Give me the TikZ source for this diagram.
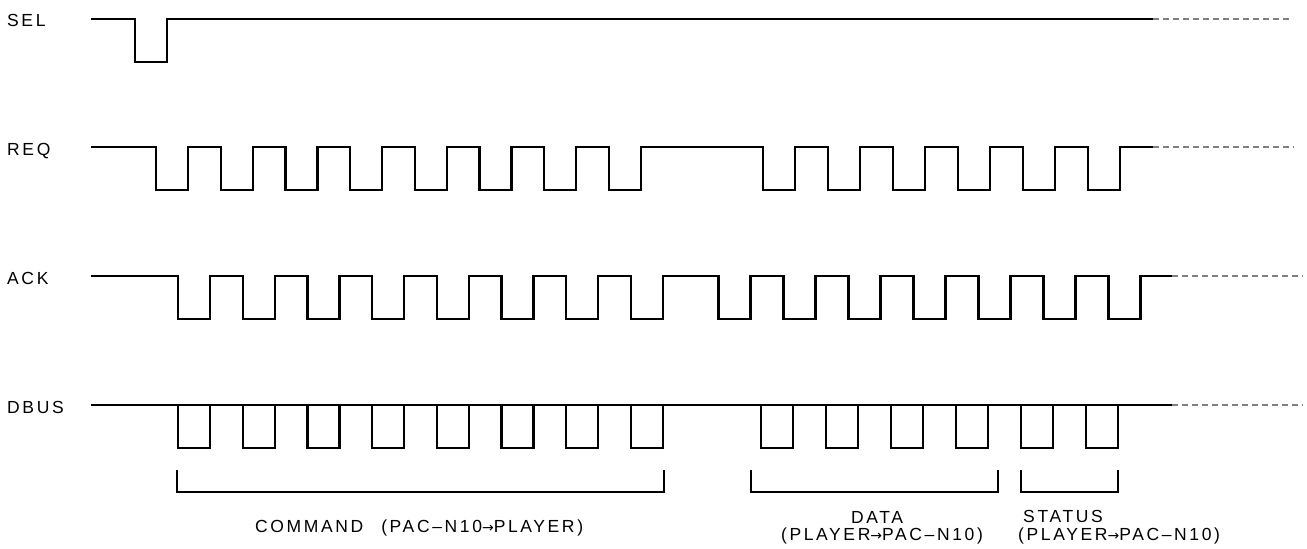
\documentclass[tikz,border=0pt]{standalone}
\usepackage{fontspec}
\newfontfamily\plotfont{Liberation Sans}[LetterSpace=15]
\newfontfamily\arrowfont{DejaVu Sans}
\newcommand{\dirarrow}{{\arrowfont\fontsize{14}{18}\selectfont →}}

\begin{document}
\begin{tikzpicture}[x=1pt, y=-1pt,
	sig/.style={line width=2.2pt, line join=miter},
	cont/.style={line width=1.3pt, color=gray, dash pattern=on 6pt off 4pt},
	brace/.style={line width=1.3pt},
	lbl/.style={font=\plotfont\fontsize{17.5}{18}\selectfont, inner sep=0pt}]
	\useasboundingbox (0,0) rectangle (1307,549);
	% signal names
	\node[lbl, anchor=base west] (sel) at (7,26) {SEL};
	\node[lbl, anchor=base west] (req) at (7,155) {REQ};
	\node[lbl, anchor=base west] (ack) at (7,284) {ACK};
	\node[lbl, anchor=base west] (dbus) at (7,413) {DBUS};
	% SEL
	\draw[sig] (91,19) -- (135,19) -- (135,62) -- (167,62) -- (167,19) -- (1153,19);
	\draw[cont] (1153,19) -- (1293,19);
	% REQ
	\draw[sig] (91,147)
		\foreach \i in {0,...,7} { -- (156+64.7*\i,147) -- (156+64.7*\i,190) -- (188+64.7*\i,190) -- (188+64.7*\i,147) }
		\foreach \i in {0,...,5} { -- (763+65*\i,147) -- (763+65*\i,190) -- (795+65*\i,190) -- (795+65*\i,147) }
		-- (1153,147);
	\draw[cont] (1153,147) -- (1294,147);
	% ACK
	\draw[sig] (91,276)
		\foreach \i in {0,...,7} { -- (178+64.7*\i,276) -- (178+64.7*\i,319) -- (210+64.7*\i,319) -- (210+64.7*\i,276) }
		\foreach \i in {0,...,6} { -- (718.5+65*\i,276) -- (718.5+65*\i,319) -- (750.5+65*\i,319) -- (750.5+65*\i,276) }
		-- (1172,276);
	\draw[cont] (1172,276) -- (1303,276);
	% DBUS
	\draw[sig] (91,405) -- (1172,405);
	\foreach \i in {0,...,7}
		\draw[sig] (178+64.7*\i,405) -- (178+64.7*\i,448) -- (210+64.7*\i,448) -- (210+64.7*\i,405);
	\foreach \i in {0,...,5}
		\draw[sig] (761+65*\i,405) -- (761+65*\i,448) -- (793+65*\i,448) -- (793+65*\i,405);
	\draw[cont] (1172,405) -- (1303,405);
	% phases
	\draw[brace] (177,470) |- (664,492) -- (664,470);
	\draw[brace] (751,470) |- (998,492) -- (998,470);
	\draw[brace] (1021,470) |- (1118,492) -- (1118,470);
	\node[lbl, anchor=base west] (cmd) at (255,532) {COMMAND\hspace{18pt}(PAC–N10\dirarrow PLAYER)};
	\node[lbl, anchor=base] (data) at (877,523) {DATA};
	\node[lbl, anchor=base] (datadir) at (882,540) {(PLAYER\dirarrow PAC–N10)};
	\node[lbl, anchor=base west] (status) at (1023,522) {STATUS};
	\node[lbl, anchor=base west] (statusdir) at (1018,540) {(PLAYER\dirarrow PAC–N10)};
\end{tikzpicture}
\end{document}
